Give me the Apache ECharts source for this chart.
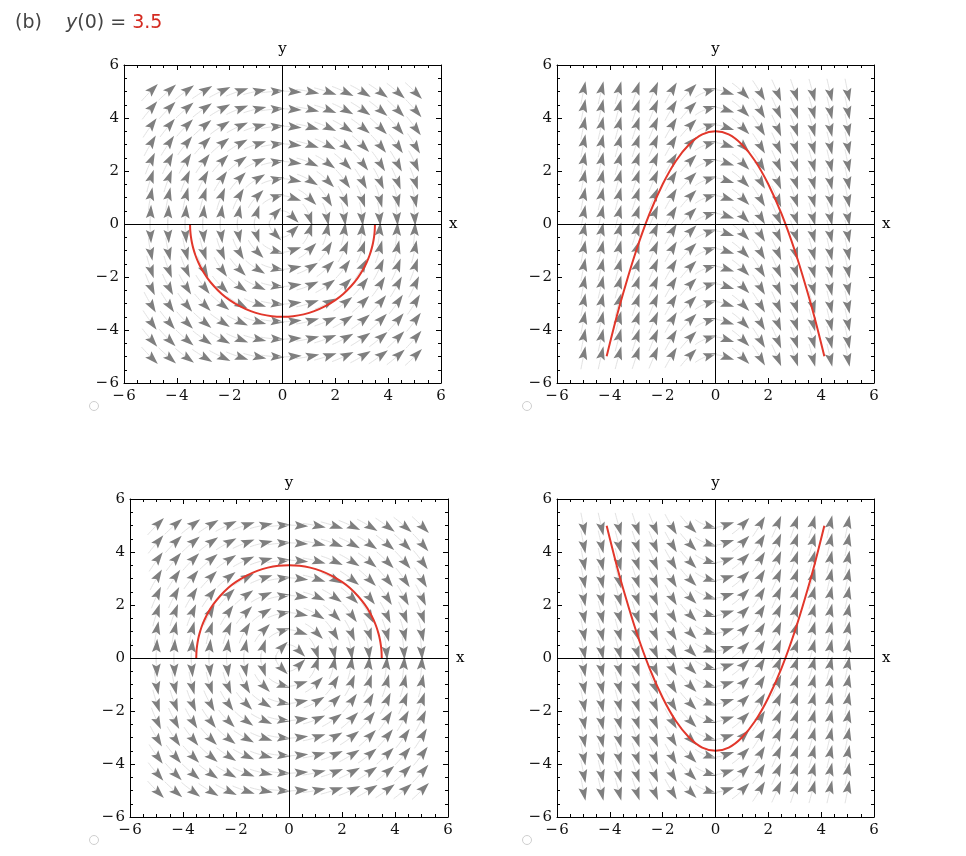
<!DOCTYPE html>
<html>
<head>
<meta charset="utf-8">
<script src="https://cdn.jsdelivr.net/npm/echarts@6/dist/echarts.min.js"></script>
<style>
html,body{margin:0;padding:0;background:#fff;}
#c{width:966px;height:856px;}
</style>
</head>
<body>
<div id="c"></div>
<script>
// ---- data ----
// sample positions of the direction-field arrows (same for x and y)
const gridVals = [-5, -4.33, -3.67, -3, -2.33, -1.67, -1, -0.33, 0.33, 1, 1.67, 2.33, 3, 3.67, 4.33, 5];
// tick labels
const tickVals = [-6, -4, -2, 0, 2, 4, 6];

// direction fields (right-hand side of dy/dx = f(x, y))
const fieldCircle = (x, y) => -x / y;   // dy/dx = -x / y
const fieldDown   = (x, y) => -x;       // dy/dx = -x
const fieldUp     = (x, y) => x;        // dy/dx =  x

// red solution curves
const arcX      = [-3.5, -3.49, -3.47, -3.43, -3.38, -3.3, -3.2, -3.05, -2.85, -2.6, -2.3, -2.0, -1.6, -1.2, -0.8, -0.4, 0, 0.4, 0.8, 1.2, 1.6, 2.0, 2.3, 2.6, 2.85, 3.05, 3.2, 3.3, 3.38, 3.43, 3.47, 3.49, 3.5];
const arcLowerY = [0, -0.26, -0.46, -0.70, -0.91, -1.17, -1.42, -1.72, -2.03, -2.34, -2.64, -2.87, -3.11, -3.29, -3.41, -3.48, -3.5, -3.48, -3.41, -3.29, -3.11, -2.87, -2.64, -2.34, -2.03, -1.72, -1.42, -1.17, -0.91, -0.70, -0.46, -0.26, 0];
const arcUpperY = [0, 0.26, 0.46, 0.70, 0.91, 1.17, 1.42, 1.72, 2.03, 2.34, 2.64, 2.87, 3.11, 3.29, 3.41, 3.48, 3.5, 3.48, 3.41, 3.29, 3.11, 2.87, 2.64, 2.34, 2.03, 1.72, 1.42, 1.17, 0.91, 0.70, 0.46, 0.26, 0];
const parabX     = [-4.12, -3.75, -3.5, -3, -2.5, -2, -1.5, -1, -0.5, 0, 0.5, 1, 1.5, 2, 2.5, 3, 3.5, 3.75, 4.12];
const parabDownY = [-4.99, -3.53, -2.63, -1, 0.38, 1.5, 2.38, 3, 3.38, 3.5, 3.38, 3, 2.38, 1.5, 0.38, -1, -2.63, -3.53, -4.99];
const parabUpY   = [4.99, 3.53, 2.63, 1, -0.38, -1.5, -2.38, -3, -3.38, -3.5, -3.38, -3, -2.38, -1.5, -0.38, 1, 2.63, 3.53, 4.99];

// ---- build ----
const zip = (xs, ys) => xs.map((x, i) => [x, ys[i]]);
const gridPoints = [];
gridVals.forEach(y => gridVals.forEach(x => gridPoints.push([x, y])));

const panels = [
  { box: {left: 124, top: 65, width: 317, height: 318}, field: fieldCircle, curve: zip(arcX, arcLowerY), radio: [94, 406] },
  { box: {left: 557, top: 65, width: 317, height: 318}, field: fieldDown,   curve: zip(parabX, parabDownY), radio: [527, 406] },
  { box: {left: 130, top: 499, width: 318, height: 318}, field: fieldCircle, curve: zip(arcX, arcUpperY), radio: [94, 840] },
  { box: {left: 557, top: 499, width: 317, height: 318}, field: fieldUp,     curve: zip(parabX, parabUpY), radio: [527, 840] }
];

const SERIF = 'DejaVu Serif';
const fmt = v => (v < 0 ? '\u2212\u200a' + Math.abs(v) : String(v));

function axisCfg(i, pos, showLabel, isX) {
  return {
    type: 'value', gridIndex: i, position: pos, min: -6, max: 6, interval: 2,
    axisLine: {show: true, onZero: false, lineStyle: {color: '#000', width: 1}},
    axisTick: {show: true, inside: true, length: 5, lineStyle: {color: '#000', width: 1}},
    minorTick: {show: true, splitNumber: 4, length: 3, lineStyle: {color: '#000', width: 1}},
    splitLine: {show: false},
    axisLabel: {show: showLabel, formatter: fmt, fontFamily: SERIF, fontSize: 15, color: '#111',
                margin: isX ? 6 : 5,
                customValues: tickVals}
  };
}

function makeRender(fn) {
  return function (params, api) {
    const x = api.value(0), y = api.value(1);
    const P = api.coord([x, y]);
    const sz = api.size([1, 1]);
    const dirAt = (cx, cy) => {
      const s = fn(cx, cy);
      let dx = sz[0], dy = -s * sz[1];
      if (!isFinite(dy)) { dx = 0; dy = -Math.sign(s) || -1; }
      const L = Math.hypot(dx, dy);
      return [dx / L, dy / L];
    };
    const d = dirAt(x, y);
    const n = [-d[1], d[0]];
    const at = (a, b) => [P[0] + d[0] * a + n[0] * b, P[1] + d[1] * a + n[1] * b];
    const head = [at(10.5, 0), at(-3, 4.4), at(-0.5, 0), at(-3, -4.4)];
    // faint tail following the flow backwards
    const tail = [];
    let px = P[0] - d[0] * 1, py = P[1] - d[1] * 1;
    let cx = x - d[0] / sz[0], cy = y + d[1] / sz[1];
    let prev = d;
    tail.push([px, py]);
    for (let k = 0; k < 5; k++) {
      let u = dirAt(cx, cy);
      if (u[0] * prev[0] + u[1] * prev[1] < 0) u = [-u[0], -u[1]];
      prev = u;
      const h = 2.4;
      px -= u[0] * h; py -= u[1] * h;
      cx -= u[0] * h / sz[0]; cy += u[1] * h / sz[1];
      tail.push([px, py]);
    }
    return {
      type: 'group',
      children: [
        {type: 'polyline', shape: {points: tail}, style: {stroke: '#e2e2e2', lineWidth: 1, fill: null}, silent: true},
        {type: 'polygon', shape: {points: head}, style: {fill: '#7f7f7f', stroke: null}, silent: true}
      ]
    };
  };
}

const grid = [], xAxis = [], yAxis = [], series = [], graphic = [];
panels.forEach((p, i) => {
  grid.push(Object.assign({containLabel: false}, p.box));
  xAxis.push(axisCfg(i, 'bottom', true, true), axisCfg(i, 'top', false, true));
  yAxis.push(axisCfg(i, 'left', true, false), axisCfg(i, 'right', false, false));
  series.push({
    type: 'custom', xAxisIndex: 2 * i, yAxisIndex: 2 * i, data: gridPoints,
    renderItem: makeRender(p.field), silent: true, z: 2
  });
  series.push({
    type: 'line', xAxisIndex: 2 * i, yAxisIndex: 2 * i, data: p.curve, smooth: 0.4,
    symbol: 'none', lineStyle: {color: '#e2372b', width: 2}, silent: true, z: 4,
    markLine: {
      silent: true, symbol: ['none', 'none'], animation: false,
      lineStyle: {color: '#000', width: 1, type: 'solid'},
      label: {show: true, position: 'end', distance: 8, fontFamily: SERIF, fontSize: 15, color: '#000'},
      emphasis: {disabled: true},
      data: [
        {yAxis: 0, label: {formatter: 'x'}},
        {xAxis: 0, label: {formatter: 'y'}}
      ]
    }
  });
  graphic.push({type: 'circle', shape: {cx: p.radio[0], cy: p.radio[1], r: 4.5},
                style: {fill: '#fff', stroke: '#cfcfcf', lineWidth: 1}, silent: true});
});

graphic.push({
  type: 'text', left: 15, top: 14,
  style: {
    text: '{n|(b)}{n|    }{i|y}{n|(0) = }{r|3.5}',
    rich: {
      n: {fontFamily: 'DejaVu Sans', fontSize: 19, fill: '#444'},
      i: {fontFamily: 'DejaVu Sans', fontSize: 19, fontStyle: 'italic', fill: '#444'},
      r: {fontFamily: 'DejaVu Sans', fontSize: 19, fill: '#d42a20'}
    }
  }
});

const chart = echarts.init(document.getElementById('c'), null, {renderer: 'canvas'});
chart.setOption({
  animation: false,
  backgroundColor: '#fff',
  grid, xAxis, yAxis, series, graphic
});
</script>
</body>
</html>
